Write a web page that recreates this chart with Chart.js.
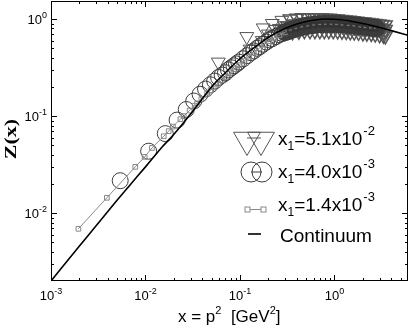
<!DOCTYPE html>
<html>
<head>
<meta charset="utf-8">
<script src="https://cdn.jsdelivr.net/npm/chart.js@4.4.1/dist/chart.umd.min.js"></script>
<style>
  html, body { margin: 0; padding: 0; background: #fff; }
  canvas { display: block; }
</style>
</head>
<body>
<canvas id="zChart" width="409" height="327"></canvas>
<script>
// continuum curve
const contX = [0.001, 0.002, 0.003, 0.005, 0.007, 0.01, 0.015, 0.02, 0.03, 0.05, 0.07, 0.1, 0.15, 0.2, 0.3, 0.4, 0.55, 0.8, 1.1, 1.5, 2.0, 3.0, 4.0, 6.0];
const contY = [0.0020, 0.0046, 0.0074, 0.0136, 0.020, 0.030, 0.048, 0.065, 0.105, 0.20, 0.28, 0.39, 0.53, 0.65, 0.80, 0.89, 0.96, 1.0, 0.99, 0.95, 0.90, 0.82, 0.76, 0.68];

// x1 = 1.4e-3 (squares)
const sqX = [0.00195, 0.0039, 0.0078, 0.0098, 0.0117, 0.0156, 0.0176, 0.0195, 0.0234, 0.0254, 0.0293, 0.0332, 0.0352, 0.039, 0.0449, 0.0488, 0.0527, 0.0586, 0.0644, 0.0703, 0.078, 0.088, 0.098, 0.11, 0.125, 0.14, 0.16, 0.18, 0.2, 0.23, 0.26, 0.3, 0.34, 0.39, 0.45, 0.52, 0.6, 0.7, 0.8, 0.92, 1.05, 1.2, 1.4, 1.6, 1.85, 2.1, 2.4, 2.7];
const sqY = [0.0069, 0.0144, 0.030, 0.038, 0.047, 0.062, 0.070, 0.078, 0.093, 0.100, 0.114, 0.128, 0.135, 0.150, 0.170, 0.185, 0.198, 0.216, 0.235, 0.253, 0.277, 0.305, 0.335, 0.37, 0.41, 0.45, 0.50, 0.55, 0.59, 0.64, 0.68, 0.73, 0.77, 0.80, 0.83, 0.85, 0.87, 0.88, 0.885, 0.885, 0.88, 0.87, 0.86, 0.85, 0.83, 0.82, 0.81, 0.80];

// x1 = 4.0e-3 (circles)
const ciX = [0.0054, 0.0108, 0.0162, 0.0216, 0.027, 0.0324, 0.0378, 0.0432, 0.0486, 0.054, 0.0594, 0.0648, 0.0702, 0.0756, 0.081, 0.0864, 0.0918, 0.0972, 0.108, 0.119, 0.13, 0.14, 0.152, 0.162, 0.175, 0.19, 0.205, 0.22, 0.24, 0.26, 0.28,
  0.3, 0.315, 0.33, 0.345, 0.36, 0.375, 0.39, 0.41, 0.43, 0.45, 0.47, 0.49, 0.51, 0.535, 0.56, 0.59, 0.62, 0.65, 0.68, 0.715, 0.75, 0.79, 0.83, 0.875, 0.92, 0.96, 1.0, 1.05, 1.1, 1.15, 1.2, 1.27, 1.35, 1.42, 1.5, 1.57, 1.65, 1.72, 1.8, 1.9, 2.0, 2.1, 2.2, 2.3, 2.4, 2.5, 2.6, 2.7, 2.8];
const ciY = [0.0216, 0.0435, 0.066, 0.091, 0.117, 0.143, 0.168, 0.19, 0.21, 0.23, 0.25, 0.265, 0.28, 0.30, 0.315, 0.33, 0.345, 0.36, 0.39, 0.42, 0.45, 0.47, 0.50, 0.52, 0.55, 0.58, 0.61, 0.63, 0.66, 0.69, 0.71,
  0.73, 0.745, 0.76, 0.77, 0.78, 0.79, 0.80, 0.81, 0.82, 0.83, 0.84, 0.845, 0.85, 0.858, 0.865, 0.87, 0.875, 0.88, 0.885, 0.888, 0.89, 0.893, 0.895, 0.895, 0.895, 0.895, 0.895, 0.893, 0.89, 0.888, 0.885, 0.88, 0.875, 0.87, 0.865, 0.862, 0.86, 0.855, 0.85, 0.845, 0.84, 0.835, 0.83, 0.825, 0.82, 0.818, 0.815, 0.812, 0.81];

// x1 = 5.1e-2 (triangles), momentum branches from upper to lower
const trUpX = [0.059, 0.118, 0.176, 0.22, 0.278, 0.34, 0.40, 0.46, 0.52, 0.58, 0.65, 0.72, 0.80, 0.88, 0.97, 1.07, 1.18, 1.3, 1.43, 1.57, 1.72, 1.88, 2.05, 2.25, 2.45, 2.7, 2.95, 3.2, 3.45];
const trUpY = [0.36, 0.66, 0.81, 0.90, 0.97, 1.0, 1.02, 1.03, 1.03, 1.03, 1.03, 1.03, 1.02, 1.02, 1.01, 1.0, 0.99, 0.98, 0.97, 0.96, 0.95, 0.94, 0.93, 0.92, 0.91, 0.90, 0.89, 0.88, 0.87];
const trMidX = [0.24, 0.3, 0.37, 0.44, 0.51, 0.59, 0.67, 0.76, 0.85, 0.95, 1.05, 1.16, 1.28, 1.41, 1.55, 1.7, 1.87, 2.05, 2.25, 2.47, 2.7, 2.95, 3.2, 3.45];
const trMidY = [0.78, 0.85, 0.89, 0.91, 0.92, 0.93, 0.93, 0.93, 0.93, 0.92, 0.92, 0.91, 0.90, 0.89, 0.88, 0.87, 0.86, 0.85, 0.84, 0.83, 0.82, 0.81, 0.80, 0.78];
const trMid2X = [0.2, 0.26, 0.32, 0.39, 0.47, 0.55, 0.63, 0.72, 0.81, 0.9, 1.0, 1.1, 1.22, 1.34, 1.48, 1.62, 1.78, 1.96, 2.15, 2.36, 2.58, 2.82, 3.07, 3.33];
const trMid2Y = [0.70, 0.80, 0.85, 0.87, 0.88, 0.89, 0.89, 0.89, 0.89, 0.88, 0.88, 0.87, 0.86, 0.85, 0.84, 0.83, 0.82, 0.81, 0.80, 0.79, 0.78, 0.77, 0.76, 0.74];
const trLoX = [0.128, 0.172, 0.225, 0.287, 0.36, 0.42, 0.48, 0.55, 0.62, 0.70, 0.78, 0.87, 0.97, 1.08, 1.2, 1.33, 1.47, 1.62, 1.8, 2.0, 2.2, 2.45, 2.7, 3.0, 3.3, 3.45];
const trLoY = [0.49, 0.60, 0.67, 0.72, 0.74, 0.75, 0.76, 0.76, 0.76, 0.76, 0.76, 0.76, 0.76, 0.755, 0.75, 0.745, 0.74, 0.735, 0.73, 0.72, 0.715, 0.71, 0.70, 0.69, 0.68, 0.67];

// axis decades (tick labels are 10^exp)
const xExps = [-3, -2, -1, 0];
const yExps = [-2, -1, 0];

const legendItems = [
  { kind: 'tri', pre: '=5.1x10', exp: '-2' },
  { kind: 'circ', pre: '=4.0x10', exp: '-3' },
  { kind: 'sq', pre: '=1.4x10', exp: '-3' },
  { kind: 'line', text: 'Continuum' }
];

const pts = (xs, ys) => xs.map((v, i) => ({ x: v, y: ys[i] }));
const SANS = '"Liberation Sans", Arial, Helvetica, sans-serif';
// markers pile up in the crowded high-momentum region; heavier strokes there
const crowdWidth = (from, w) => c => (c.raw && c.raw.x > from ? w : 1);

function drawPow(ctx, exp, x, y, align, big, small) {
  ctx.font = big + 'px ' + SANS;
  const w1 = ctx.measureText('10').width;
  ctx.font = small + 'px ' + SANS;
  const w2 = ctx.measureText(exp).width;
  let x0 = align === 'center' ? x - (w1 + w2) / 2 : x - w1 - w2;
  ctx.textAlign = 'left';
  ctx.textBaseline = 'alphabetic';
  ctx.font = big + 'px ' + SANS;
  ctx.fillText('10', x0, y);
  ctx.font = small + 'px ' + SANS;
  ctx.fillText(exp, x0 + w1, y - 6);
}

const decor = {
  id: 'decor',
  afterDraw(chart) {
    const { ctx, chartArea: a, scales: { x, y } } = chart;
    ctx.save();
    ctx.strokeStyle = '#000';
    ctx.fillStyle = '#000';
    ctx.lineWidth = 1;
    ctx.strokeRect(a.left + 0.5, a.top + 0.5, a.right - a.left - 1, a.bottom - a.top - 1);

    // inward ticks on all four sides
    ctx.beginPath();
    for (let e = -3; e <= 0; e++) {
      for (let m = 1; m <= 9; m++) {
        const v = m * Math.pow(10, e);
        if (v > x.min && v < x.max || (m === 1 && v >= x.min)) {
          const px = Math.round(x.getPixelForValue(v)) + 0.5;
          const len = m === 1 ? 6 : 3;
          ctx.moveTo(px, a.bottom); ctx.lineTo(px, a.bottom - len);
          ctx.moveTo(px, a.top); ctx.lineTo(px, a.top + len);
        }
        if (v > y.min && v < y.max) {
          const py = Math.round(y.getPixelForValue(v)) + 0.5;
          const len = m === 1 ? 6 : 3;
          ctx.moveTo(a.left, py); ctx.lineTo(a.left + len, py);
          ctx.moveTo(a.right, py); ctx.lineTo(a.right - len, py);
        }
      }
    }
    ctx.stroke();

    xExps.forEach(e => drawPow(ctx, String(e), x.getPixelForValue(Math.pow(10, e)), 300, 'center', 13, 9));
    yExps.forEach(e => drawPow(ctx, String(e), a.left - 4, y.getPixelForValue(Math.pow(10, e)) + 5, 'right', 13, 9));

    // x title
    ctx.textAlign = 'left';
    let cx = 178;
    const base = 322;
    const part = (t, size, dy) => {
      ctx.font = size + 'px ' + SANS;
      ctx.fillText(t, cx, base + dy);
      cx += ctx.measureText(t).width;
    };
    part('x = p', 17, 0); part('2', 11, -8); part('  [GeV', 17, 0); part('2', 11, -8); part(']', 17, 0);

    // y title
    ctx.save();
    ctx.translate(16, 139);
    ctx.rotate(-Math.PI / 2);
    ctx.scale(1, 0.8);
    ctx.font = 'bold 22px "Liberation Serif", "Times New Roman", serif';
    ctx.textAlign = 'center';
    ctx.fillText('Z(x)', 0, 0);
    ctx.restore();

    // legend
    const rows = [140, 172, 209, 234];
    const bases = [145, 178, 211, 242];
    legendItems.forEach((it, i) => {
      const cy = rows[i];
      ctx.lineWidth = 1;
      if (it.kind === 'tri') {
        ctx.strokeStyle = '#555';
        [247, 261].forEach(c => {
          const r = 15.5;
          ctx.beginPath();
          ctx.moveTo(c, cy + r);
          ctx.lineTo(c - r * 0.866, cy - r / 2);
          ctx.lineTo(c + r * 0.866, cy - r / 2);
          ctx.closePath();
          ctx.stroke();
        });
        ctx.beginPath(); ctx.moveTo(247, cy - 2); ctx.lineTo(261, cy - 2); ctx.stroke();
      } else if (it.kind === 'circ') {
        ctx.strokeStyle = '#3c3c3c';
        [251, 262].forEach(c => { ctx.beginPath(); ctx.arc(c, cy, 10, 0, Math.PI * 2); ctx.stroke(); });
        ctx.beginPath(); ctx.moveTo(251, cy); ctx.lineTo(262, cy); ctx.stroke();
      } else if (it.kind === 'sq') {
        ctx.strokeStyle = '#888';
        ctx.beginPath(); ctx.moveTo(250, cy + 0.5); ctx.lineTo(261, cy + 0.5); ctx.stroke();
        [247.5, 263.5].forEach(c => ctx.strokeRect(c - 2.5, cy - 2, 5, 5));
      } else {
        ctx.strokeStyle = '#000';
        ctx.lineWidth = 1.6;
        ctx.beginPath(); ctx.moveTo(248, cy); ctx.lineTo(261, cy); ctx.stroke();
      }
      ctx.fillStyle = '#000';
      ctx.textAlign = 'left';
      if (it.kind === 'line') {
        ctx.font = '19px ' + SANS;
        ctx.fillText(it.text, 280, bases[i]);
      } else {
        let tx = 278;
        ctx.font = '19px ' + SANS;
        ctx.fillText('x', tx, bases[i]); tx += ctx.measureText('x').width;
        ctx.font = '12px ' + SANS;
        ctx.fillText('1', tx, bases[i] + 5); tx += ctx.measureText('1').width;
        ctx.font = '19px ' + SANS;
        ctx.fillText(it.pre, tx, bases[i]); tx += ctx.measureText(it.pre).width;
        ctx.font = '13px ' + SANS;
        ctx.fillText(it.exp, tx + 1, bases[i] - 10);
      }
    });
    ctx.restore();
  }
};

new Chart(document.getElementById('zChart'), {
  type: 'scatter',
  data: {
    datasets: [
      { label: 'Continuum', data: pts(contX, contY), showLine: true, pointRadius: 0,
        borderColor: '#000', borderWidth: 1.6, cubicInterpolationMode: 'monotone', order: 0 },
      { label: 'x1=1.4x10-3', data: pts(sqX, sqY), showLine: true, pointStyle: 'rect', pointRadius: 3.3,
        borderColor: '#888', pointBorderColor: c => (c.raw && c.raw.x > 0.3 ? '#333' : '#888'),
        pointBorderWidth: crowdWidth(0.3, 2), backgroundColor: 'rgba(0,0,0,0)', borderWidth: 1, order: 1 },
      { label: 'x1=4.0x10-3', data: pts(ciX, ciY), pointStyle: 'circle', pointRadius: 8,
        borderColor: '#3c3c3c', backgroundColor: 'rgba(0,0,0,0)', borderWidth: crowdWidth(0.28, 1.8), order: 2 },
      { label: 'x1=5.1x10-2',
        data: pts(trUpX, trUpY).concat(pts(trMidX, trMidY), pts(trMid2X, trMid2Y), pts(trLoX, trLoY)),
        pointStyle: 'triangle', rotation: 180, pointRadius: 8,
        borderColor: '#555', backgroundColor: 'rgba(0,0,0,0)', borderWidth: crowdWidth(0.3, 1.5), order: 3 }
    ]
  },
  options: {
    responsive: false,
    animation: false,
    devicePixelRatio: 1,
    layout: { autoPadding: false, padding: { left: 51, top: 1, right: 1, bottom: 46 } },
    plugins: { legend: { display: false }, tooltip: { enabled: false } },
    scales: {
      x: { type: 'logarithmic', min: 0.001, max: 6.0, display: false },
      y: { type: 'logarithmic', min: 0.002, max: 1.535, display: false }
    }
  },
  plugins: [decor]
});
</script>
</body>
</html>
